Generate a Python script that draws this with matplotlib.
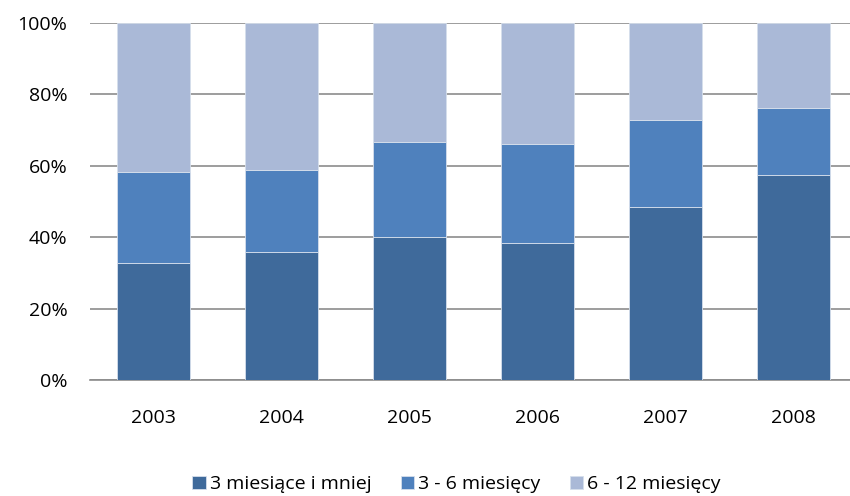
import numpy as np
import matplotlib.pyplot as plt

plt.rcParams['font.family'] = ['Open Sans', 'DejaVu Sans']

years = ['2003', '2004', '2005', '2006', '2007', '2008']
# cumulative tops (percent)
low = [32.7, 35.8, 40.0, 38.5, 48.4, 57.3]
low_mid = [58.3, 58.8, 66.7, 66.2, 72.9, 76.2]
mid = [b - a for a, b in zip(low, low_mid)]
high = [100 - b for b in low_mid]

labels = ['3 miesiące i mniej', '3 - 6 miesięcy', '6 - 12 miesięcy']
colors = ['#3F6A9B', '#4F81BD', '#AAB9D7']

fig = plt.figure(figsize=(8.5, 4.96), dpi=100)
ax = fig.add_axes([0.1055, 0.2333, 0.9035, 0.7211])

x = np.arange(len(years))
bottom = np.zeros(len(years))
for vals, lab, col in zip([low, mid, high], labels, colors):
    ax.bar(x, vals, 0.57, bottom=bottom, color=col, label=lab,
           edgecolor='#D6DFEC', linewidth=0.6, zorder=3)
    bottom += np.array(vals)

ax.set_xlim(-0.5, 5.5)
ax.set_ylim(0, 100)
ax.set_yticks(np.arange(0, 101, 20))
ax.set_yticklabels([f'{v}%' for v in range(0, 101, 20)])
ax.set_xticks(x)
ax.set_xticklabels(years)
ax.yaxis.grid(True, color='#8C8C8C', linewidth=1.2, zorder=0)
ax.tick_params(axis='both', length=0, labelsize=14, colors='black')
ax.tick_params(axis='y', pad=16)
ax.tick_params(axis='x', pad=21)
for s in ['top', 'right', 'left']:
    ax.spines[s].set_visible(False)
ax.spines['bottom'].set_color('#8C8C8C')
ax.spines['bottom'].set_linewidth(1.2)

fig.legend(loc='lower center', bbox_to_anchor=(0.537, -0.03), ncol=3, frameon=False,
           fontsize=14, handlelength=0.7, handleheight=0.7, handletextpad=0.2,
           columnspacing=1.5)

fig.savefig('out.png', dpi=100)
